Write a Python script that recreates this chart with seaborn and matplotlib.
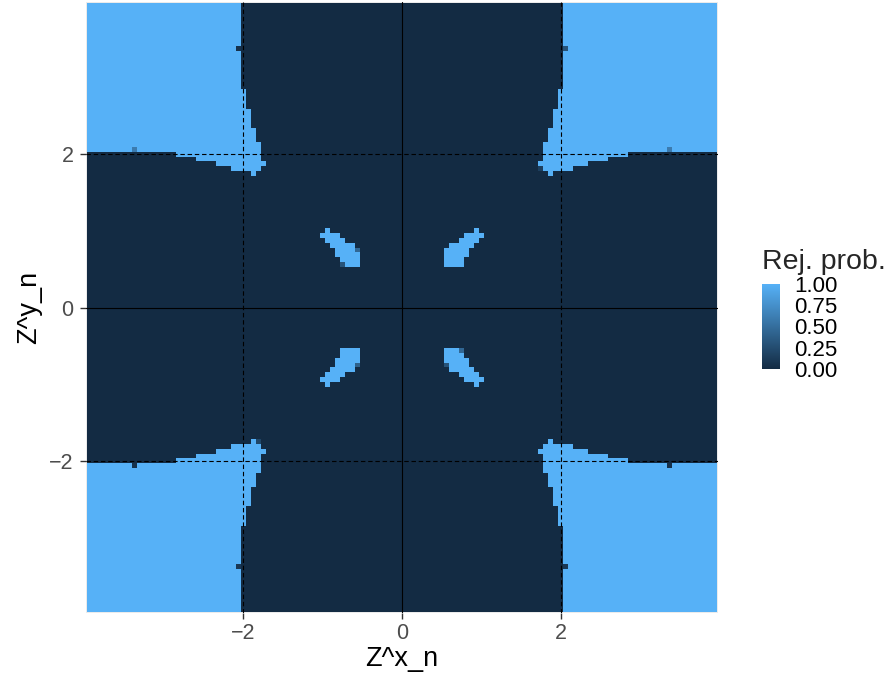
import numpy as np
import pandas as pd
import matplotlib
matplotlib.use("Agg")
import matplotlib.pyplot as plt
import seaborn as sns
from matplotlib.colors import LinearSegmentedColormap

# -----------------------------
# 1. Data
# -----------------------------
# grid of Z values (cell centres), step 1/16
step = 1 / 16
n_half = 63
grid = np.arange(-n_half, n_half + 1) * step

# corner regions (same in every quadrant, index k = |Z| / step):
# from index corner_from[i] on, the other coordinate must reach corner_min[i]
corner_from = [28, 29, 30, 31, 35, 38, 42, 46]
corner_min = [30, 29, 28, 29, 30, 31, 32, 33]

# inner blobs (first quadrant, mirrored): per row index, first/last column index
blob_rows = [9, 10, 11, 12, 13, 14, 15, 16]
blob_lo = [9, 9, 9, 9, 10, 12, 13, 15]
blob_hi = [12, 12, 13, 13, 14, 15, 16, 15]

# single cells with other values (index x, index y, rejection prob.)
odd_kx = [-33, -54, 54, 33, -54, -33, 54, 33, 28, -29, -9, -12, 12, 9, -9]
odd_ky = [54, 33, 33, 54, -33, -54, -33, -54, 29, -28, 12, 9, -9, -12, -12]
odd_val = [0.05, 0.6, 0.6, 0.3, 0.05, 0.1, 0.05, 0.1, 0.15, 0.2, 0.45, 0.3, 0.45, 0.3, 0.4]

axis_ticks = [-2, 0, 2]
axis_ticklabels = ["\u22122", "0", "2"]
legend_ticks = [0, 0.25, 0.5, 0.75, 1.0]
legend_labels = ["0.00", "0.25", "0.50", "0.75", "1.00"]

# -----------------------------
# 2. Build the table
# -----------------------------
k = np.arange(-n_half, n_half + 1)
KX, KY = np.meshgrid(k, k)
akx, aky = np.abs(KX), np.abs(KY)

need = np.full(n_half + 1, 999)
for f, m in zip(corner_from, corner_min):
    need[f:] = m
corner = (akx >= need[aky]) & (aky >= need[akx])

lo = np.full(n_half + 1, 999)
hi = np.full(n_half + 1, -1)
for r, a, b in zip(blob_rows, blob_lo, blob_hi):
    lo[r], hi[r] = a, b
blob = (akx >= lo[aky]) & (akx <= hi[aky])

Z = (corner | blob).astype(float)
for x, y, v in zip(odd_kx, odd_ky, odd_val):
    Z[y + n_half, x + n_half] = v

df = pd.DataFrame(Z[::-1], index=grid[::-1], columns=grid)

# -----------------------------
# 3. Plot
# -----------------------------
sns.set_theme(style="white")
plt.rcParams["font.family"] = ["Liberation Sans", "DejaVu Sans"]

fig = plt.figure(figsize=(8.92, 6.85), dpi=100)
ax = fig.add_axes([86 / 892, 1 - 613 / 685, 632 / 892, 611 / 685])
cax = fig.add_axes([762 / 892, 1 - 369 / 685, 18 / 892, 85 / 685])

cmap = LinearSegmentedColormap.from_list("gg", ["#132B43", "#56B1F7"], N=256)
sns.heatmap(df, ax=ax, cbar_ax=cax, cmap=cmap, vmin=0, vmax=1,
            xticklabels=False, yticklabels=False, linewidths=0)

n = len(grid)
ax.set_facecolor("#EBEBEB")
ax.set_xlim(-0.25, n + 0.25)
ax.set_ylim(n + 0.25, -0.25)

xpos = [np.searchsorted(grid, v) + 0.5 for v in axis_ticks]
ypos = [n - 1 - np.searchsorted(grid, v) + 0.5 for v in axis_ticks]

for p, v in zip(xpos, axis_ticks):
    ax.axvline(p, color="black", lw=0.8, ls="-" if v == 0 else (0, (4, 2.5)))
for p, v in zip(ypos, axis_ticks):
    ax.axhline(p, color="black", lw=0.8, ls="-" if v == 0 else (0, (4, 2.5)))

ax.set_xticks(xpos)
ax.set_xticklabels(axis_ticklabels)
ax.set_yticks(ypos)
ax.set_yticklabels(axis_ticklabels, rotation=0)
ax.tick_params(axis="x", which="major", direction="out", length=4, width=1,
               color="#333333", labelcolor="#4D4D4D", labelsize=15.5, pad=3,
               bottom=True)
ax.tick_params(axis="y", which="major", direction="out", length=4, width=1,
               color="#333333", labelcolor="#4D4D4D", labelsize=15.5, pad=5,
               left=True)
for s in ax.spines.values():
    s.set_visible(False)

ax.set_xlabel("Z^x_n", fontsize=19.5, color="black", labelpad=2)
ax.set_ylabel("Z^y_n", fontsize=19.5, color="black", labelpad=5)

cbar = ax.collections[0].colorbar
cbar.outline.set_visible(False)
cbar.set_ticks(legend_ticks)
cbar.set_ticklabels(legend_labels)
cbar.ax.tick_params(direction="in", length=3.5, width=1, color="white",
                    labelcolor="black", labelsize=16, left=True, right=True,
                    pad=10)

fig.text(762 / 892, 1 - 262 / 685, "Rej. prob.", fontsize=20.5, va="center", ha="left")

plt.savefig("out.png", dpi=100)
